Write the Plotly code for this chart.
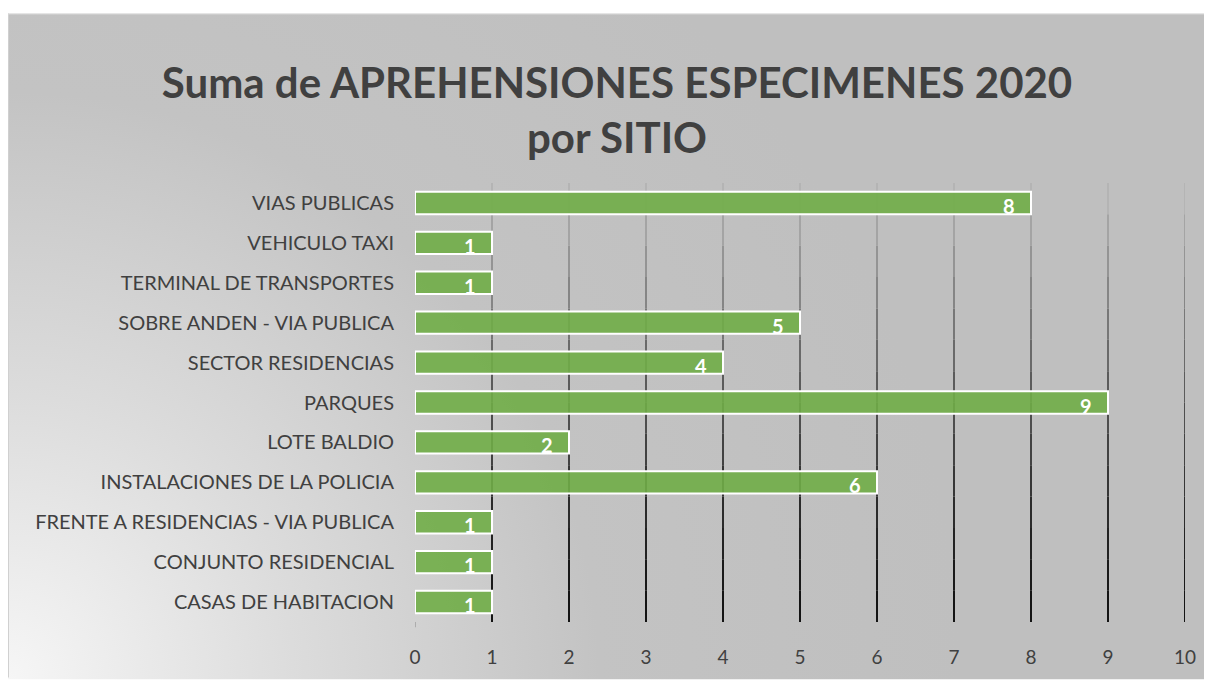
import base64
import plotly.graph_objects as go

sitios = [
    "CASAS DE HABITACION",
    "CONJUNTO RESIDENCIAL",
    "FRENTE A RESIDENCIAS - VIA PUBLICA",
    "INSTALACIONES DE LA POLICIA",
    "LOTE BALDIO",
    "PARQUES",
    "SECTOR RESIDENCIAS",
    "SOBRE ANDEN - VIA PUBLICA",
    "TERMINAL DE TRANSPORTES",
    "VEHICULO TAXI",
    "VIAS PUBLICAS",
]
aprehensiones = [1, 1, 1, 6, 2, 9, 4, 5, 1, 1, 8]
x_ticks = [0, 1, 2, 3, 4, 5, 6, 7, 8, 9, 10]

# page body has an 8px margin, so the figure starts at (8, 8)
W, H = 1204, 672
L, R, T, B = 407, 27, 175, 54
pw, ph = W - L - R, H - T - B


def px_x(p):
    return (p - L) / pw


def px_y(p):
    return (H - B - p) / ph


# gradient background as svg
svg = """<svg xmlns='http://www.w3.org/2000/svg' width='1204' height='668'>
<defs><radialGradient id='g' gradientUnits='userSpaceOnUse' cx='0' cy='668' r='950'>
<stop offset='0' stop-color='#f6f6f6'/>
<stop offset='0.3' stop-color='#dcdcdc'/>
<stop offset='0.62' stop-color='#c3c3c3'/>
<stop offset='1' stop-color='#bfbfbf'/>
</radialGradient></defs>
<rect width='1204' height='668' fill='url(#g)'/></svg>"""
bg_src = "data:image/svg+xml;base64," + base64.b64encode(svg.encode()).decode()

fig = go.Figure()
fig.add_trace(go.Bar(
    y=sitios,
    x=aprehensiones,
    orientation="h",
    marker=dict(color="rgba(112,173,71,0.9)", line=dict(color="white", width=2)),
    width=0.56,
    hoverinfo="skip",
))

# data labels, inside end of each bar
annotations = []
for s, v in zip(sitios, aprehensiones):
    annotations.append(dict(x=v, y=s, xref="x", yref="y", text=f"<b>{v}</b>",
                            showarrow=False, xanchor="right", yanchor="middle",
                            xshift=-14, yshift=-3,
                            font=dict(family="Lato", size=20, color="white")))

shapes = []
# gradient gridlines (light at top, black at bottom)
n_seg = 14
for xv in x_ticks[1:]:
    for k in range(n_seg):
        y0 = k / n_seg
        y1 = (k + 1) / n_seg
        g = int(20 + 160 * (k / (n_seg - 1)) ** 1.3)
        shapes.append(dict(type="line", xref="x", yref="paper", x0=xv, x1=xv, y0=y0, y1=y1,
                           line=dict(color=f"rgb({g},{g},{g})", width=2), layer="below"))
shapes.append(dict(type="line", xref="x", yref="paper", x0=0, x1=0, y0=-0.012, y1=0.0,
                   line=dict(color="#888", width=1), layer="below"))
# chart border, left and top only
shapes.append(dict(type="line", xref="paper", yref="paper",
                   x0=px_x(0.5), x1=px_x(0.5), y0=px_y(H + 2), y1=px_y(4),
                   line=dict(color="#d0d0d0", width=1), layer="below"))
shapes.append(dict(type="line", xref="paper", yref="paper",
                   x0=px_x(0), x1=px_x(W + 2), y0=px_y(4.5), y1=px_y(4.5),
                   line=dict(color="#d8d8d8", width=1), layer="below"))

fig.update_layout(
    width=W, height=H,
    margin=dict(l=L, r=R, t=T, b=B),
    paper_bgcolor="white",
    plot_bgcolor="rgba(0,0,0,0)",
    showlegend=False,
    title=dict(
        text="<b>Suma de APREHENSIONES ESPECIMENES 2020<br>por SITIO</b>",
        x=609 / W, xref="container", xanchor="center",
        y=1 - 90 / H, yref="container", yanchor="middle",
        font=dict(family="Lato", size=42, color="#404040"),
    ),
    images=[dict(source=bg_src, xref="paper", yref="paper",
                 x=px_x(0), y=px_y(4), sizex=px_x(W + 4) - px_x(0), sizey=px_y(4) - px_y(H + 4),
                 sizing="stretch", layer="below", xanchor="left", yanchor="top")],
    shapes=shapes,
    annotations=annotations,
    xaxis=dict(range=[0, 10], tickvals=x_ticks, showgrid=False, zeroline=False, showline=False,
               tickfont=dict(family="Lato", size=19, color="#404040"), ticklabelstandoff=22,
               fixedrange=True),
    yaxis=dict(showgrid=False, zeroline=False, showline=False, range=[-0.5, 10.5],
               tickfont=dict(family="Lato", size=20, color="#404040"), ticklabelstandoff=20,
               fixedrange=True),
)

fig.write_html("out.html")
